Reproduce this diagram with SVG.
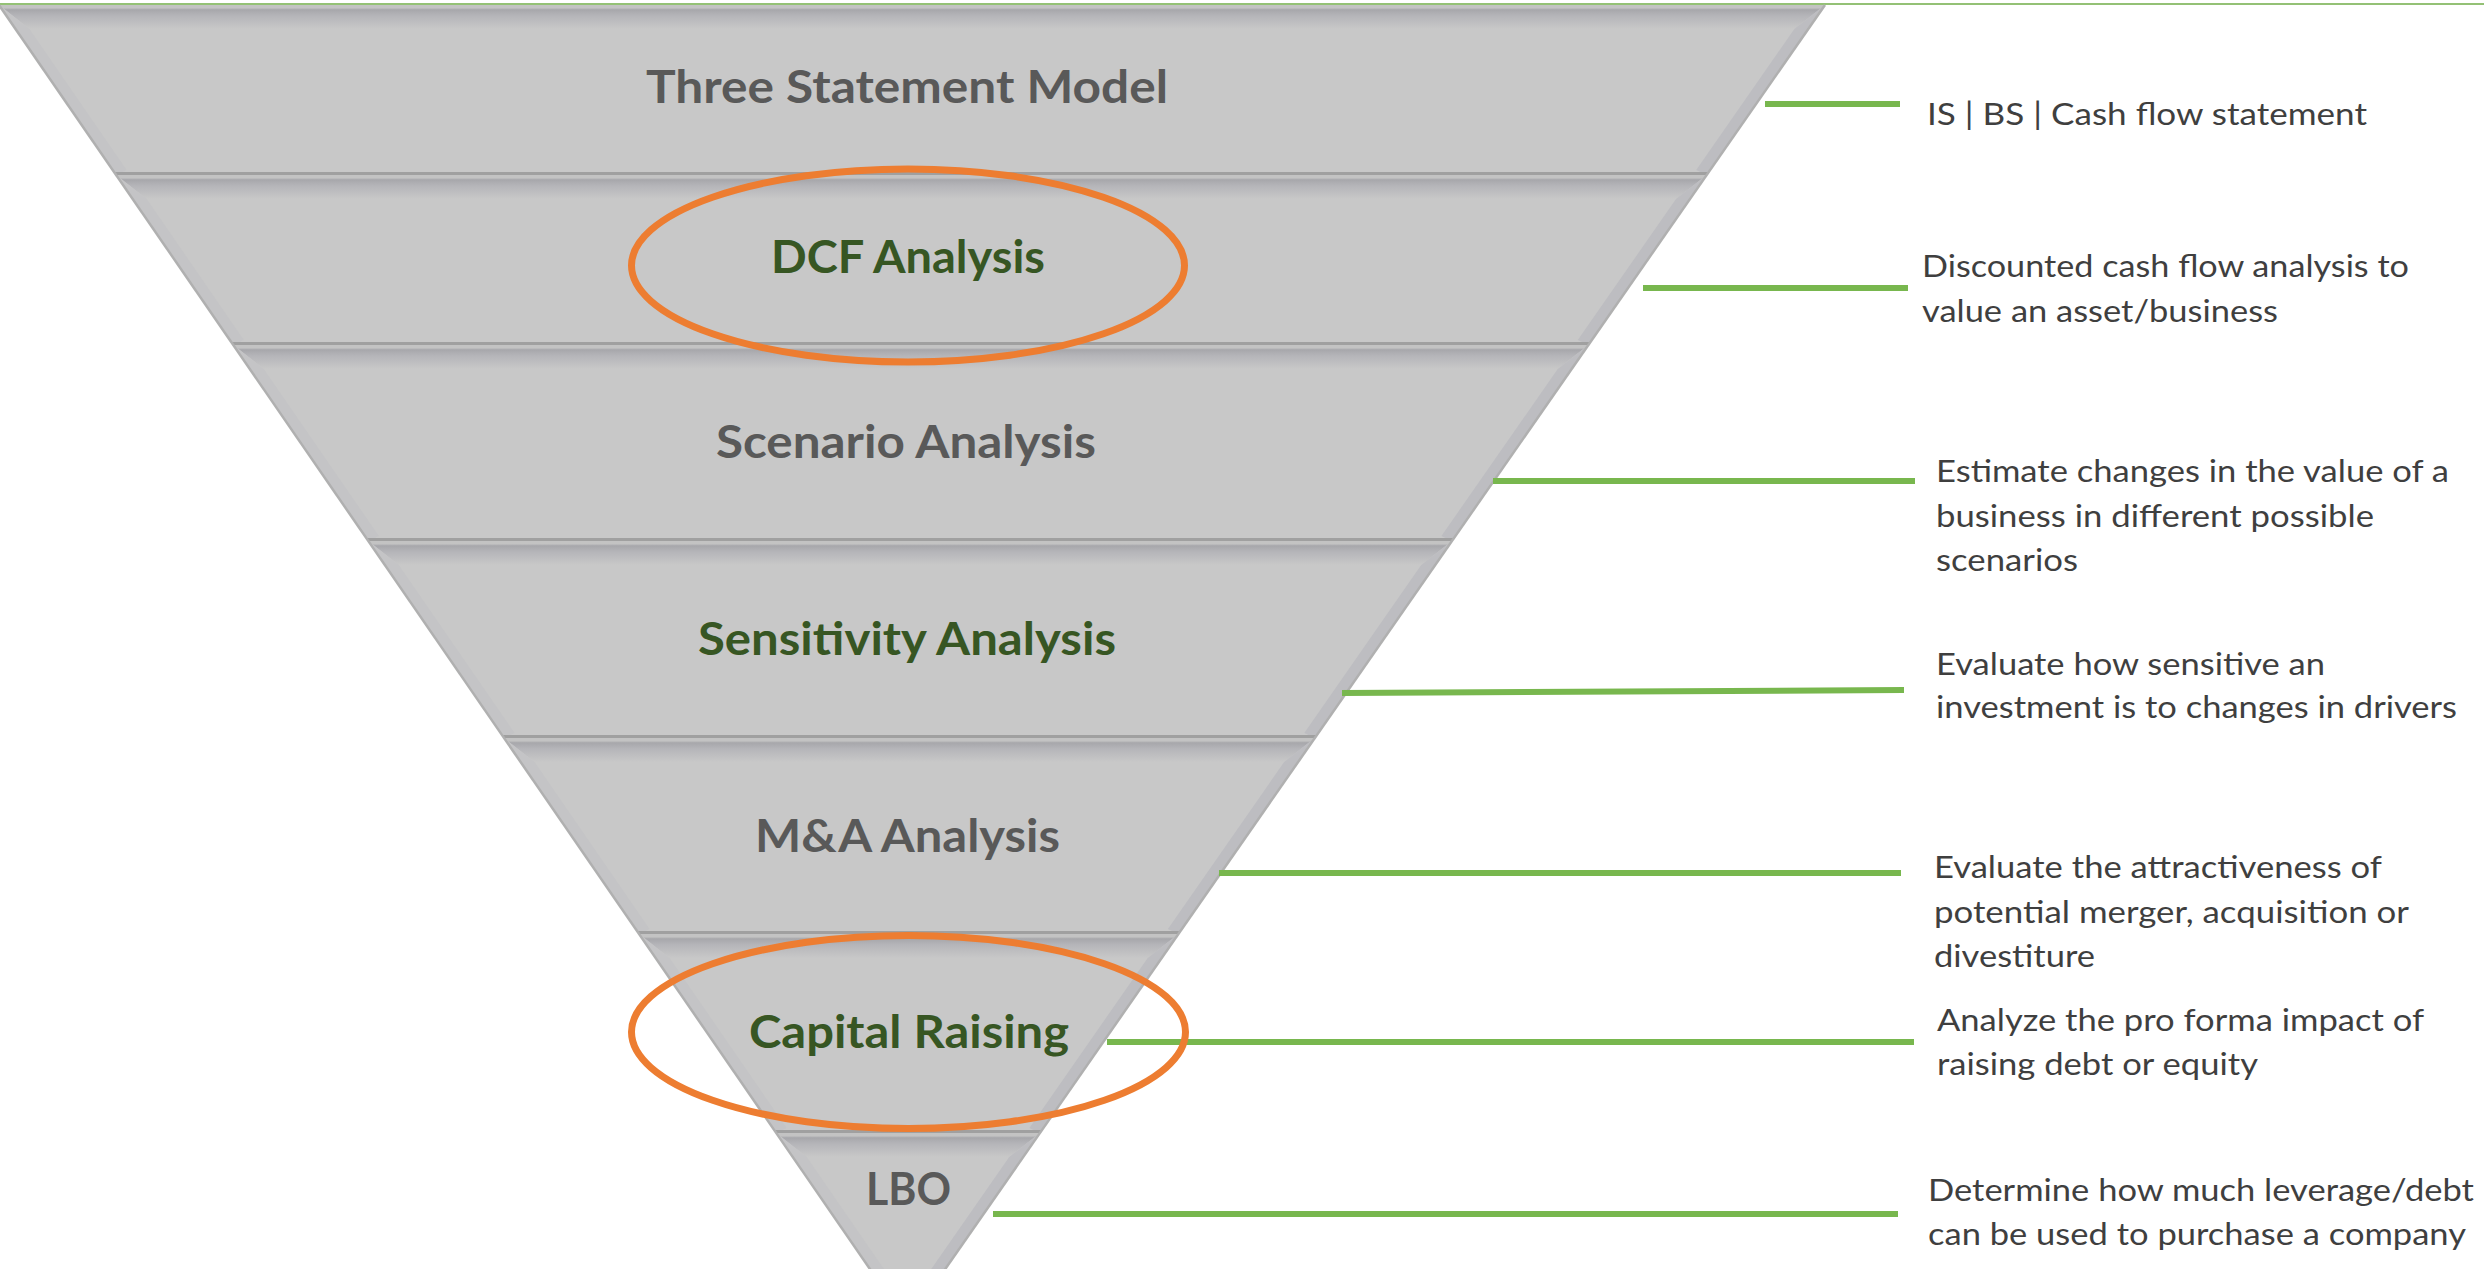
<svg xmlns="http://www.w3.org/2000/svg" width="2484" height="1269" viewBox="0 0 2484 1269">
  <style>
    .face { fill: #c8c8c8; }
    .top { fill: url(#topShade); }
    .bevL { fill: #c4c4c6; }
    .bevR { fill: #bdbdc1; }
    .base { stroke: #a0a0a0; stroke-width: 3; fill: none; }
    .edge { stroke: #b0b0b0; stroke-width: 2.5; fill: none; }
    .lbl { font-family: Lato, "Open Sans", "Liberation Sans", sans-serif; font-weight: 700; font-size: 46px; }
    .grey { fill: #595959; }
    .green { fill: #375623; }
    .desc { font-family: Lato, "Open Sans", "Liberation Sans", sans-serif; font-size: 30px; fill: #3f3f3f; }
    .conn { stroke: #78b74e; stroke-width: 6; fill: none; }
    .ring { stroke: #ed7d31; stroke-width: 7; fill: none; }
  </style>
  <defs>
    <linearGradient id="topShade" x1="0" y1="0" x2="0" y2="1">
      <stop offset="0" stop-color="#c3c3c3"/>
      <stop offset="0.12" stop-color="#c3c3c3"/>
      <stop offset="0.2" stop-color="#a7a7ab"/>
      <stop offset="0.45" stop-color="#b5b5b9"/>
      <stop offset="1" stop-color="#c8c8c8"/>
    </linearGradient>
  </defs>

  <rect width="2484" height="1269" fill="#ffffff"/>

  <!-- thin rule across the top -->
  <line x1="0" y1="4" x2="2484" y2="4" stroke="#70ad47" stroke-width="1.5"/>

  <!-- funnel bands, widest first -->
  <g id="band-three-statement">
    <polygon class="face" points="-1,5 1825,5 1706.7,175 116.1,175"/>
    <polygon class="top" points="-1,5 1825,5 1794.3,29 29.5,29"/>
    <polygon class="bevL" points="-1,5 29.5,29 126.7,170 116.1,175"/>
    <polygon class="bevR" points="1825,5 1706.7,175 1696.2,170 1794.3,29"/>
    <line class="base" x1="115.1" y1="173.5" x2="1707.7" y2="173.5"/>
    <text class="lbl grey" x="646" y="103" textLength="522" lengthAdjust="spacingAndGlyphs">Three Statement Model</text>
  </g>

  <g id="band-dcf">
    <polygon class="face" points="116.1,175 1706.7,175 1588.4,345 233.3,345"/>
    <polygon class="top" points="116.1,175 1706.7,175 1676,199 146.7,199"/>
    <polygon class="bevL" points="116.1,175 146.7,199 243.8,340 233.3,345"/>
    <polygon class="bevR" points="1706.7,175 1588.4,345 1577.8,340 1676,199"/>
    <line class="base" x1="232.2" y1="343.5" x2="1589.4" y2="343.5"/>
    <text class="lbl green" x="771" y="273" textLength="274" lengthAdjust="spacingAndGlyphs">DCF Analysis</text>
  </g>

  <g id="band-scenario">
    <polygon class="face" points="233.3,345 1588.4,345 1451.9,541 368.3,541"/>
    <polygon class="top" points="233.3,345 1588.4,345 1557.7,369 263.8,369"/>
    <polygon class="bevL" points="233.3,345 263.8,369 378.9,536 368.3,541"/>
    <polygon class="bevR" points="1588.4,345 1451.9,541 1441.4,536 1557.7,369"/>
    <line class="base" x1="367.3" y1="539.5" x2="1453" y2="539.5"/>
    <text class="lbl grey" x="716" y="458" textLength="380" lengthAdjust="spacingAndGlyphs">Scenario Analysis</text>
  </g>

  <g id="band-sensitivity">
    <polygon class="face" points="368.3,541 1451.9,541 1314.8,738 504,738"/>
    <polygon class="top" points="368.3,541 1451.9,541 1421.2,565 398.8,565"/>
    <polygon class="bevL" points="368.3,541 398.8,565 514.6,733 504,738"/>
    <polygon class="bevR" points="1451.9,541 1314.8,738 1304.3,733 1421.2,565"/>
    <line class="base" x1="503" y1="736.5" x2="1315.9" y2="736.5"/>
    <text class="lbl green" x="698" y="655" textLength="418" lengthAdjust="spacingAndGlyphs">Sensitivity Analysis</text>
  </g>

  <g id="band-ma">
    <polygon class="face" points="504,738 1314.8,738 1178.4,934 639.1,934"/>
    <polygon class="top" points="504,738 1314.8,738 1284.1,762 534.6,762"/>
    <polygon class="bevL" points="504,738 534.6,762 649.6,929 639.1,934"/>
    <polygon class="bevR" points="1314.8,738 1178.4,934 1167.9,929 1284.1,762"/>
    <line class="base" x1="638.1" y1="932.5" x2="1179.5" y2="932.5"/>
    <text class="lbl grey" x="755" y="852" textLength="305" lengthAdjust="spacingAndGlyphs">M&amp;A Analysis</text>
  </g>

  <g id="band-capital">
    <polygon class="face" points="639.1,934 1178.4,934 1039.9,1133 776.2,1133"/>
    <polygon class="top" points="639.1,934 1178.4,934 1147.7,958 669.6,958"/>
    <polygon class="bevL" points="639.1,934 669.6,958 786.7,1128 776.2,1133"/>
    <polygon class="bevR" points="1178.4,934 1039.9,1133 1029.4,1128 1147.7,958"/>
    <line class="base" x1="775.2" y1="1131.5" x2="1040.9" y2="1131.5"/>
    <text class="lbl green" x="749" y="1048" textLength="320" lengthAdjust="spacingAndGlyphs">Capital Raising</text>
  </g>

  <g id="band-lbo">
    <polygon class="face" points="776.2,1133 1039.9,1133 907.4,1323.4"/>
    <polygon class="top" points="776.2,1133 1039.9,1133 1009.2,1157 806.7,1157"/>
    <polygon class="bevL" points="776.2,1133 806.7,1157 888,1275 874,1275"/>
    <polygon class="bevR" points="1039.9,1133 941.1,1275 927.1,1275 1009.2,1157"/>
    <text class="lbl grey" x="866" y="1205" textLength="85" lengthAdjust="spacingAndGlyphs">LBO</text>
  </g>

  <!-- outer funnel edges -->
  <g id="funnel-outline">
    <line class="edge" x1="-1" y1="5" x2="907.4" y2="1323.4"/>
    <line class="edge" x1="1825" y1="5" x2="907.4" y2="1323.4"/>
  </g>

  <!-- leader lines from each band to its description -->
  <g id="connectors">
    <line class="conn" x1="1765" y1="104" x2="1900" y2="104"/>
    <line class="conn" x1="1643" y1="288" x2="1908" y2="288"/>
    <line class="conn" x1="1493" y1="481" x2="1915" y2="481"/>
    <line class="conn" x1="1342" y1="693" x2="1904" y2="690"/>
    <line class="conn" x1="1219" y1="873" x2="1901" y2="873"/>
    <line class="conn" x1="1107" y1="1042" x2="1914" y2="1042"/>
    <line class="conn" x1="993" y1="1214" x2="1898" y2="1214"/>
  </g>

  <!-- highlight rings -->
  <g id="highlights">
    <ellipse class="ring" cx="908" cy="265.5" rx="276.5" ry="96.5"/>
    <ellipse class="ring" cx="908.5" cy="1032" rx="277" ry="96.5"/>
  </g>

  <!-- descriptions -->
  <g id="desc-three-statement" class="desc">
    <text x="1927" y="125" textLength="440" lengthAdjust="spacingAndGlyphs">IS | BS | Cash flow statement</text>
  </g>
  <g id="desc-dcf" class="desc">
    <text x="1922" y="277" textLength="487" lengthAdjust="spacingAndGlyphs">Discounted cash flow analysis to</text>
    <text x="1922" y="322" textLength="356" lengthAdjust="spacingAndGlyphs">value an asset/business</text>
  </g>
  <g id="desc-scenario" class="desc">
    <text x="1936" y="482" textLength="513" lengthAdjust="spacingAndGlyphs">Estimate changes in the value of a</text>
    <text x="1936" y="527" textLength="438" lengthAdjust="spacingAndGlyphs">business in different possible</text>
    <text x="1936" y="571" textLength="142" lengthAdjust="spacingAndGlyphs">scenarios</text>
  </g>
  <g id="desc-sensitivity" class="desc">
    <text x="1936" y="675" textLength="389" lengthAdjust="spacingAndGlyphs">Evaluate how sensitive an</text>
    <text x="1936" y="718" textLength="521" lengthAdjust="spacingAndGlyphs">investment is to changes in drivers</text>
  </g>
  <g id="desc-ma" class="desc">
    <text x="1934" y="878" textLength="448" lengthAdjust="spacingAndGlyphs">Evaluate the attractiveness of</text>
    <text x="1934" y="923" textLength="475" lengthAdjust="spacingAndGlyphs">potential merger, acquisition or</text>
    <text x="1934" y="967" textLength="161" lengthAdjust="spacingAndGlyphs">divestiture</text>
  </g>
  <g id="desc-capital" class="desc">
    <text x="1937" y="1031" textLength="487" lengthAdjust="spacingAndGlyphs">Analyze the pro forma impact of</text>
    <text x="1937" y="1075" textLength="321" lengthAdjust="spacingAndGlyphs">raising debt or equity</text>
  </g>
  <g id="desc-lbo" class="desc">
    <text x="1928" y="1201" textLength="546" lengthAdjust="spacingAndGlyphs">Determine how much leverage/debt</text>
    <text x="1928" y="1245" textLength="538" lengthAdjust="spacingAndGlyphs">can be used to purchase a company</text>
  </g>
</svg>
